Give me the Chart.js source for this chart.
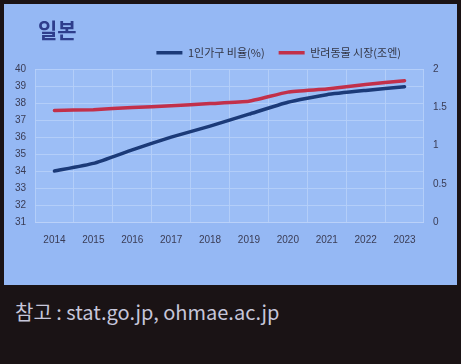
<!DOCTYPE html>
<html><head><meta charset="utf-8">
<script src="https://cdn.jsdelivr.net/npm/chart.js@4"></script>
<style>
html,body{margin:0;padding:0;background:#1a1315;width:461px;height:364px;overflow:hidden;}
#panel{position:absolute;left:4px;top:4px;width:453px;height:281px;background:#95b8f4;}
#foot{position:absolute;left:15px;top:297px;font-family:"Noto Sans CJK KR","Noto Sans",sans-serif;font-size:20px;color:#c6c6da;white-space:nowrap;}
</style></head><body>
<div id="panel"><canvas id="c" width="453" height="281"></canvas></div>
<div id="foot">참고 : stat.go.jp, ohmae.ac.jp</div>
<script>
const titleText = "일본";
const years = ["2014","2015","2016","2017","2018","2019","2020","2021","2022","2023"];
const singleHousehold = [34.0, 34.45, 35.25, 36.0, 36.65, 37.35, 38.05, 38.5, 38.75, 38.97];
const petMarket = [1.46, 1.47, 1.50, 1.52, 1.55, 1.58, 1.70, 1.74, 1.80, 1.85];
const seriesNames = ["1인가구 비율(%)", "반려동물 시장(조엔)"];
const leftTicks = [31,32,33,34,35,36,37,38,39,40];
const rightTicks = [0,0.5,1,1.5,2];

const shiftPlugin = {
  id:'shift',
  beforeInit(chart){
    const leg = chart.legend;
    if (leg && !leg._wrapped){
      const orig = leg.fit.bind(leg);
      leg.fit = function(){ orig(); this.height = Math.max(0, this.height - 8); };
      leg._wrapped = true;
    }
  },
  afterLayout(chart){
    if (chart.titleBlock){ chart.titleBlock.left += 34; }
    if (chart.legend){ chart.legend.right -= 42; chart.legend.top -= 9; chart.legend.bottom += 20; }
  },
  beforeDatasetsDraw(chart){
    const a = chart.chartArea, ctx = chart.ctx;
    ctx.save(); ctx.fillStyle = 'rgba(170,200,250,0.35)';
    ctx.fillRect(a.left, a.top, a.right-a.left, a.bottom-a.top); ctx.restore();
  }
};
const tickFont = {family:"'Liberation Sans', Arial, sans-serif", size:10};
new Chart(document.getElementById('c'), {
  type:'line',
  data:{labels:years, datasets:[
    {label:seriesNames[0], data:singleHousehold, yAxisID:'y', borderColor:'#1b3a78', backgroundColor:'#1b3a78', borderWidth:3.5, pointRadius:0, tension:0.15, borderCapStyle:'round'},
    {label:seriesNames[1], data:petMarket, yAxisID:'y1', borderColor:'#c2304a', backgroundColor:'#c2304a', borderWidth:3.5, pointRadius:0, tension:0.15, borderCapStyle:'round'}
  ]},
  options:{
    responsive:false, animation:false, devicePixelRatio:1,
    layout:{padding:{left:0,right:0,top:0,bottom:0}},
    plugins:{
      title:{display:true, text:titleText, align:'start', color:'#2e3d8c',
        font:{family:"'Noto Sans CJK KR', sans-serif", size:21, weight:'bold'}, padding:{top:13,bottom:0}},
      legend:{display:true, position:'top', align:'end',
        labels:{usePointStyle:true, pointStyle:'line', pointStyleWidth:26, color:'#333645', padding:14,
          font:{family:"'Noto Sans CJK KR', sans-serif", size:11}}},
      tooltip:{enabled:false}
    },
    scales:{
      x:{offset:true, grid:{color:'rgba(190,212,250,0.9)', offset:true, drawTicks:false}, border:{display:false},
        ticks:{color:'#3a3c55', font:tickFont, padding:12, maxRotation:0},
        afterFit(s){ s.height = 63; }},
      y:{position:'left', min:31, max:40, grid:{color:'rgba(190,212,250,0.9)', drawTicks:false}, border:{display:false},
        afterBuildTicks(s){ s.ticks = leftTicks.map(v=>({value:v})); },
        ticks:{color:'#3a3c55', font:tickFont, padding:9},
        afterFit(s){ s.width = 31; }},
      y1:{position:'right', min:0, max:2, grid:{display:false, drawTicks:false}, border:{display:false},
        afterBuildTicks(s){ s.ticks = rightTicks.map(v=>({value:v})); },
        ticks:{color:'#3a3c55', font:tickFont, padding:9, callback:(v)=>String(v)},
        afterFit(s){ s.width = 33; }}
    }
  },
  plugins:[shiftPlugin]
});
</script>
</body></html>
